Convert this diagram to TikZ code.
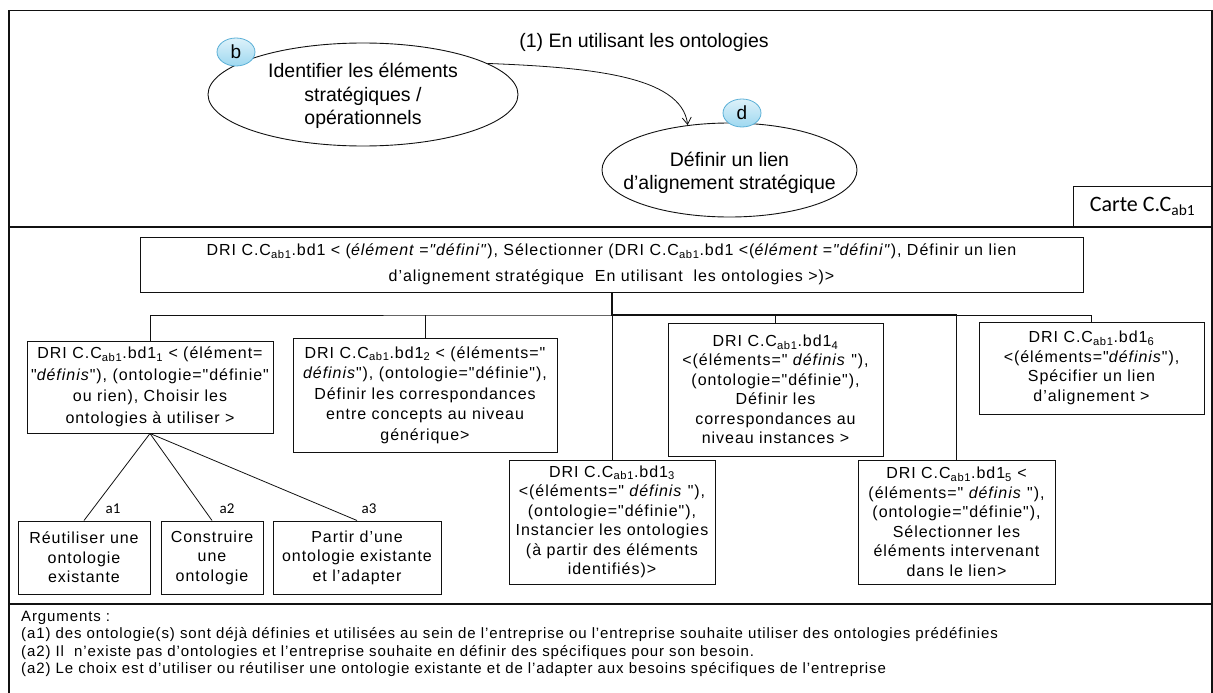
\documentclass[tikz,border=0pt]{standalone}
\usepackage{fontspec}
\setmainfont{Liberation Sans}
\newfontfamily\boxfont[LetterSpace=6]{Liberation Sans}
\newfontfamily\calfont{Carlito}
\usetikzlibrary{shapes,arrows.meta,positioning,calc}
\definecolor{cmInk}{HTML}{111111}
\definecolor{cmBadge}{HTML}{9ED8F0}
\definecolor{cmBadgeLine}{HTML}{5AAFD6}
\newcommand{\ccab}{C.C\textsubscript{ab1}}
\tikzset{
  frm/.style={draw=cmInk, line width=1.1pt},
  drb/.style={draw=cmInk, line width=1pt, inner sep=2pt, align=center, font={\boxfont\fontsize{16}{19.5}\selectfont}},
  ell/.style={ellipse, draw=cmInk, line width=0.9pt, inner sep=0pt},
  eltxt/.style={align=center, inner sep=0pt, font={\fontsize{19.5}{23.5}\selectfont}},
  badge/.style={ellipse, draw=cmBadgeLine, line width=0.8pt, top color=cmBadge!35, bottom color=cmBadge, minimum width=38, minimum height=28, inner sep=0pt, font={\fontsize{19}{19}\selectfont}},
  lnk/.style={draw=cmInk, line width=0.8pt},
  trunk/.style={draw=cmInk, line width=2pt},
  arr/.style={-{Straight Barb[length=7pt,width=9pt]}, draw=cmInk, line width=0.8pt},
  lbl/.style={font={\calfont\fontsize{15}{15}\selectfont}, inner sep=0pt},
}
\begin{document}
\begin{tikzpicture}[x=1pt,y=-1pt]
  \useasboundingbox (0,0) rectangle (1213,693);
  % cadre et separations
  \draw[frm] (9,10.5) rectangle (1212,720);
  \draw[frm] (9,227) -- (1212,227);
  \draw[frm] (9,604) -- (1212,604);
  \node[draw=cmInk, line width=1pt, minimum width=139, minimum height=41, inner sep=0pt, font={\calfont\fontsize{22}{22}\selectfont}] (carte) at (1142.5,206.5) {Carte C.C\textsubscript{ab1}};

  % carte : intentions
  \node[ell, minimum width=310, minimum height=103] (eb) at (363,94.5) {};
  \node[eltxt] (ebt) at ($(eb.center)+(0,1.5)$) {Identifier les éléments\\stratégiques /\\opérationnels};
  \node[ell, minimum width=255, minimum height=94] (ed) at (729.5,170) {};
  \node[eltxt] (edt) at ($(ed.center)+(0,3)$) {Définir un lien\\d’alignement stratégique};
  \node[badge] (bb) at (236,52) {b};
  \node[badge] (bd) at (742,113) {d};
  \node[eltxt] (strat) at (644,42) {(1) En utilisant les ontologies};
  \draw[arr] (eb.14) .. controls +(100,4) and +(-6,-50) .. (ed.133);

  % arbre de raffinement
  \node[drb, minimum width=943, minimum height=55, font={\boxfont\fontsize{16}{26}\selectfont}] (main) at (611.5,264.5) {DRI \ccab.bd1 < (\textit{élément ="défini"}), Sélectionner (DRI \ccab.bd1 <(\textit{élément ="défini"}), Définir un lien\\d’alignement stratégique\ \ En utilisant\ \ les ontologies >)>};
  \node[drb, minimum width=246, minimum height=92, font={\boxfont\fontsize{16}{21.5}\selectfont}] (bd11) at (150,387) {DRI \ccab.bd1\textsubscript{1} < (élément=\\"\textit{définis}"), (ontologie="définie"\\ou rien), Choisir les\\ontologies à utiliser >};
  \node[drb, minimum width=264, minimum height=114, font={\boxfont\fontsize{16}{20.5}\selectfont}] (bd12) at (425,395) {DRI \ccab.bd1\textsubscript{2} < (éléments="\\\textit{définis}"), (ontologie="définie"),\\Définir les correspondances\\entre concepts au niveau\\générique>};
  \node[drb, minimum width=206, minimum height=124] (bd13) at (612,522) {DRI \ccab.bd1\textsubscript{3}\\<(éléments=" \textit{définis} "),\\(ontologie="définie"),\\Instancier les ontologies\\(à partir des éléments\\identifiés)>};
  \node[drb, minimum width=215, minimum height=133] (bd14) at (775.5,389.5) {DRI \ccab.bd1\textsubscript{4}\\<(éléments=" \textit{définis} "),\\(ontologie="définie"),\\Définir les\\correspondances au\\niveau instances >};
  \node[drb, minimum width=197, minimum height=124] (bd15) at (956.5,522) {DRI \ccab.bd1\textsubscript{5} <\\(éléments=" \textit{définis} "),\\(ontologie="définie"),\\Sélectionner les\\éléments intervenant\\dans le lien>};
  \node[drb, minimum width=225, minimum height=92] (bd16) at (1091.5,368) {DRI \ccab.bd1\textsubscript{6}\\<(éléments="\textit{définis}"),\\Spécifier un lien\\d’alignement >};
  \coordinate (bus) at (611.5,315);
  \draw[trunk] (main.south) -- (bus) -- (bus -| bd15.north);
  \draw[lnk] (bd11.north) |- (bus) -| (bd16.north);
  \foreach \n in {bd12,bd13,bd14,bd15}
    \draw[lnk] (bus -| \n.north) -- (\n.north);

  % strategies de bd1_1
  \node[drb, minimum width=132, minimum height=73] (r1) at (84,557.5) {Réutiliser une\\ontologie\\existante};
  \node[drb, minimum width=102, minimum height=73] (r2) at (212,557.5) {Construire\\une\\ontologie};
  \node[drb, minimum width=168, minimum height=73] (r3) at (357,557.5) {Partir d’une\\ontologie existante\\et l’adapter};
  \foreach \n in {r1,r2,r3}
    \draw[lnk] (bd11.south) -- (\n.north);
  \node[lbl] (la1) at (113,509) {a1};
  \node[lbl] (la2) at (227,509) {a2};
  \node[lbl] (la3) at (369,509) {a3};

  % arguments
  \node[anchor=north west, align=left, inner sep=0pt, font={\boxfont\fontsize{15}{17.3}\selectfont}] (args) at (21,611) {Arguments :\\(a1) des ontologie(s) sont déjà définies et utilisées au sein de l’entreprise ou l’entreprise souhaite utiliser des ontologies prédéfinies\\(a2) Il\ \ n’existe pas d’ontologies et l’entreprise souhaite en définir des spécifiques pour son besoin.\\(a2) Le choix est d’utiliser ou réutiliser une ontologie existante et de l’adapter aux besoins spécifiques de l’entreprise};
\end{tikzpicture}
\end{document}
